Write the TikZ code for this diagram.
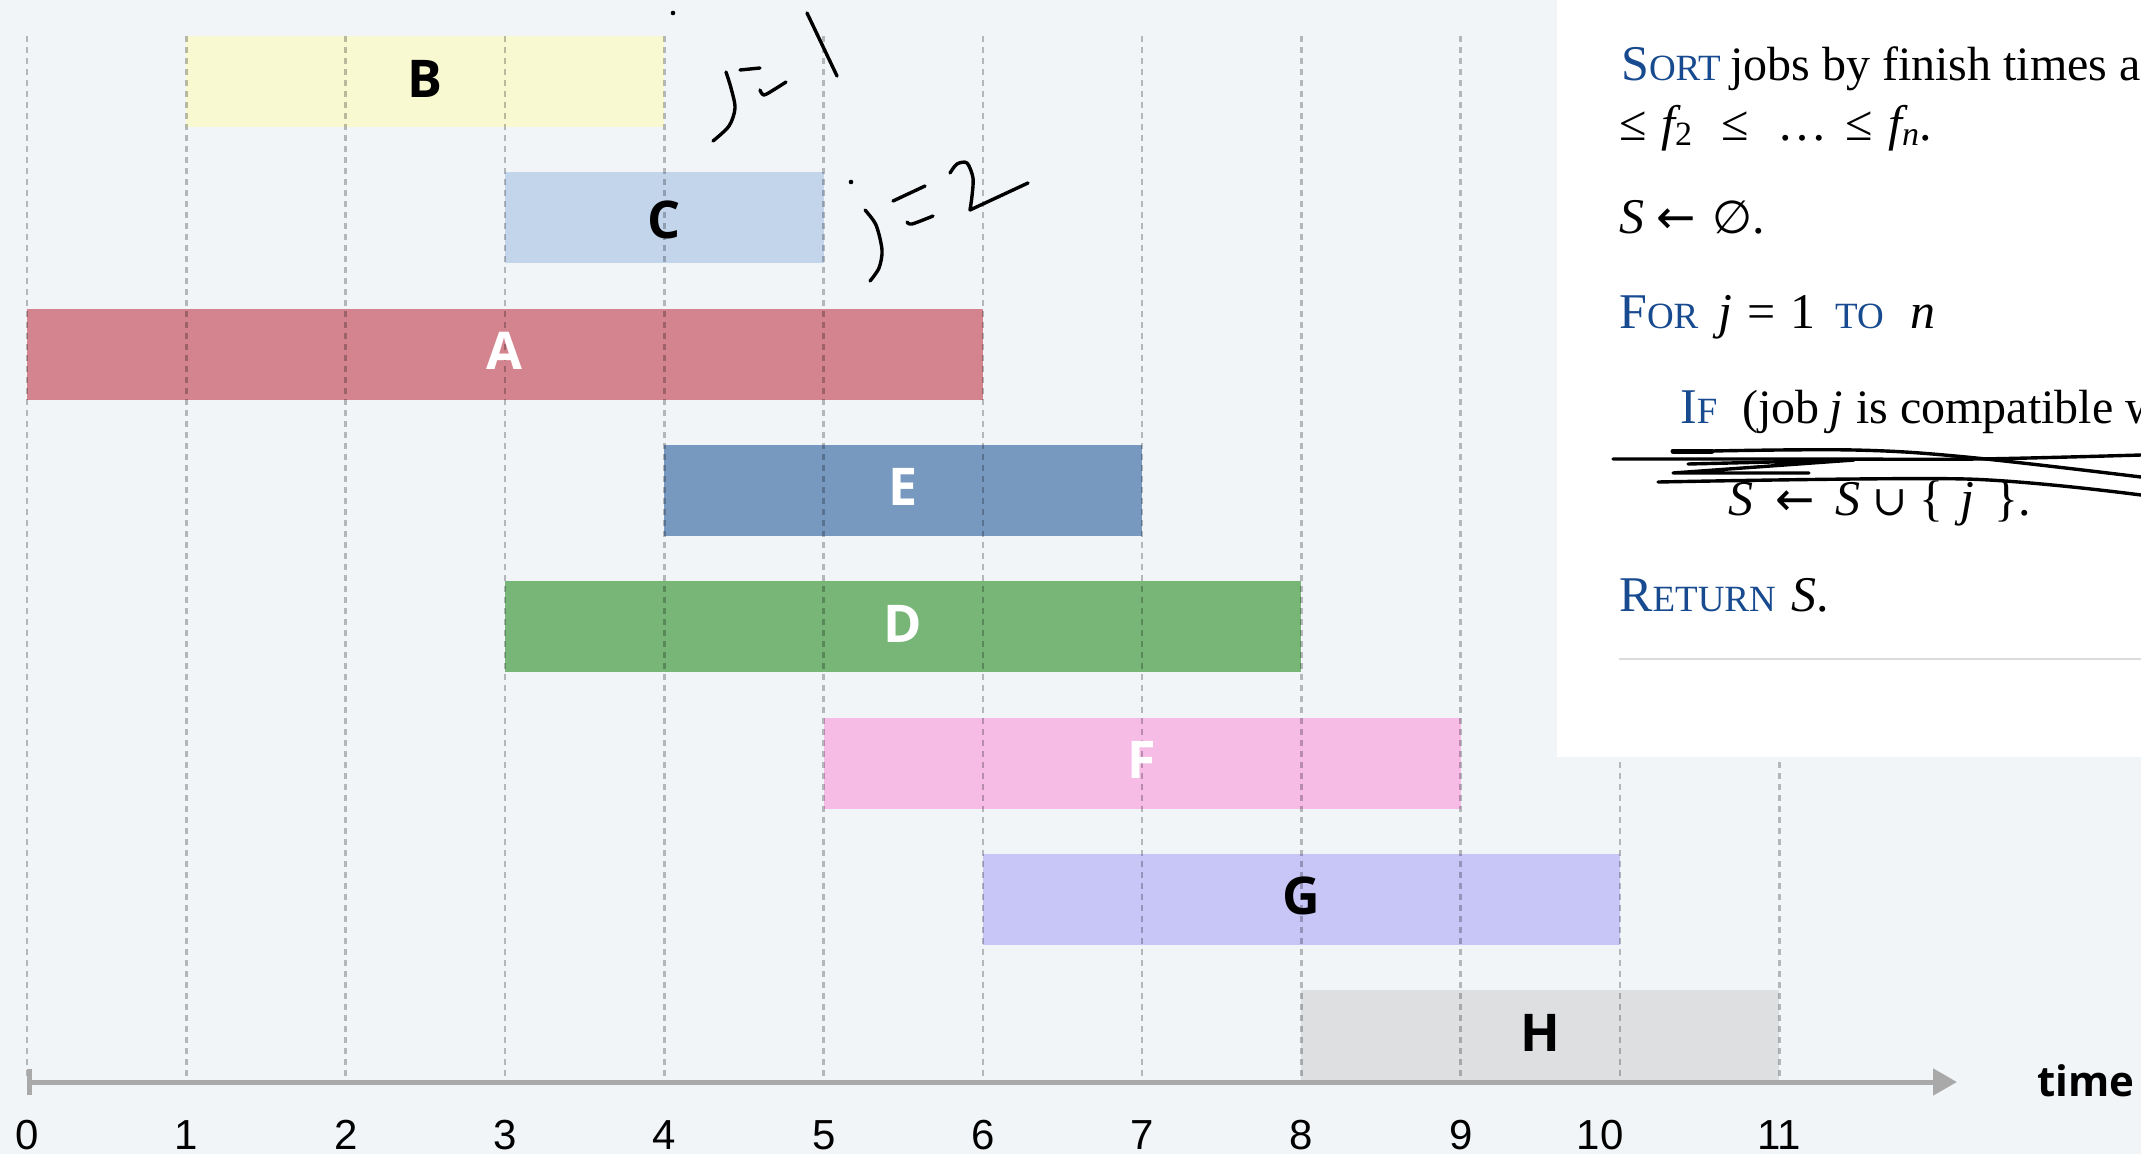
\documentclass[tikz,border=0pt]{standalone}
\usepackage{fontspec}
\setmainfont{Liberation Serif}
\newfontfamily\labelfont{Open Sans}
\newfontfamily\numfont{Liberation Sans}
\newfontfamily\symfont{DejaVu Serif}
\newfontfamily\symsans{DejaVu Sans}
\usetikzlibrary{arrows.meta}

\definecolor{bg}{HTML}{F1F5F8}
\definecolor{cB}{HTML}{F8F8D1}
\definecolor{cC}{HTML}{C2D5EB}
\definecolor{cA}{HTML}{D4848F}
\definecolor{cE}{HTML}{7799BF}
\definecolor{cD}{HTML}{78B678}
\definecolor{cF}{HTML}{F6BCE6}
\definecolor{cG}{HTML}{C8C5F7}
\definecolor{cH}{HTML}{DEDFE1}
\definecolor{kw}{RGB}{24,74,144}
\definecolor{axisgray}{HTML}{A9A9A9}

\newcommand{\bigtxt}{\fontsize{50}{60}\selectfont}
\newcommand{\runtxt}{\fontsize{48}{58}\selectfont}
\newcommand{\smallcap}{\fontsize{37}{44}\selectfont}
\newcommand{\subtxt}{\fontsize{34}{40}\selectfont}
\newcommand{\larrow}{{\symsans\fontsize{47}{50}\selectfont ←}}

\begin{document}
\begin{tikzpicture}[x=1pt,y=-1pt,
  bar/.style={inner sep=0pt,outer sep=0pt,minimum height=91pt,anchor=north west},
  barlabel/.style={inner sep=0pt,anchor=base,font=\labelfont\bfseries\fontsize{52}{60}\selectfont},
  gridline/.style={black,opacity=0.25,line width=2.6pt,dash pattern=on 6pt off 5pt},
  axisline/.style={axisgray,line width=5pt,{Bar[width=26pt,line width=5pt]}-{Triangle[length=24pt,width=26pt]}},
  num/.style={inner sep=0pt,anchor=base,font=\numfont\fontsize{42}{48}\selectfont},
  txt/.style={inner sep=0pt,anchor=base west,font=\bigtxt},
  ink/.style={black,line width=3.4pt,line cap=round,line join=round}]

\def\U{159.3}
\def\Xo{27}

% canvas
\useasboundingbox (0,0) rectangle (2141,1154);
\fill[bg] (0,0) rectangle (2141,1154);

% job intervals
\foreach \n/\s/\e/\r/\c in {B/1/4/0/cB, C/3/5/1/cC, A/0/6/2/cA, E/4/7/3/cE,
                            D/3/8/4/cD, F/5/9/5/cF, G/6/10/6/cG, H/8/11/7/cH}{
  \node[bar,fill=\c,minimum width={(\e-\s)*\U*1pt}] (\n) at ({\Xo+\s*\U},{36+136.3*\r}) {};
}

% time grid
\foreach \k in {0,...,11}{
  \draw[gridline] ({\Xo+\k*\U},36) -- ({\Xo+\k*\U},1080);
}

% job names
\foreach \n/\t/\d in {B/black/15.5, C/black/21, A/white/15.5, E/white/15.5,
                      D/white/15.5, F/white/15.5, G/black/15.5, H/black/15.5}{
  \node[barlabel,text=\t] (lab\n) at ([yshift=-\d pt]\n.center) {\n};
}

% pseudocode panel
\fill[white] (1557,0) rectangle (2141,757);
\draw[black!14,line width=2.5pt] (1619,659) -- (2141,659);

\begin{scope}
\clip (1557,0) rectangle (2141,757);
\node[txt,text=kw] (sortkw) at (1621,80) {S\smallcap ORT};
\node[txt,font=\runtxt] (sortrest) at (1730,80) {jobs by finish times a};

\node[txt] (le1) at (1619,140) {≤};
\node[txt] (f2) at (1661,140) {\itshape f\raisebox{-5pt}{\upshape\subtxt 2}};
\node[txt] (le2) at (1721,140) {≤};
\node[txt] (dots) at (1777,140) {…};
\node[txt] (le3) at (1845,140) {≤};
\node[txt] (fn) at (1888,140) {\itshape f\raisebox{-5pt}{\subtxt n}\upshape .};

\node[txt] (s0) at (1619,233) {\itshape S};
\node[txt] (ar0) at (1656,233) {\larrow};
\node[txt] (empty) at (1712,233) {{\symsans\fontsize{46}{50}\selectfont ∅}.};

\node[txt,text=kw] (forkw) at (1619,328) {F\smallcap OR};
\node[txt] (jvar) at (1718,328) {\itshape j};
\node[txt] (eq) at (1747,328) {=};
\node[txt] (one) at (1790,328) {1};
\node[txt,text=kw] (tokw) at (1835,328) {\smallcap TO};
\node[txt] (nvar) at (1910,328) {\itshape n};

\node[txt,text=kw] (ifkw) at (1680,423) {I\smallcap F};
\node[txt,font=\runtxt] (job) at (1742,423) {(job};
\node[txt,font=\runtxt] (jvar2) at (1829,423) {\itshape j};
\node[txt,font=\runtxt] (compat) at (1856,423) {is compatible w};

\node[txt] (s1) at (1728,515) {\itshape S};
\node[txt] (ar1) at (1775,515) {\larrow};
\node[txt] (s2) at (1835,515) {\itshape S};
\node[txt] (cup) at (1872,515) {{\symfont\fontsize{42}{50}\selectfont ∪}};
\node[txt] (lbr) at (1919,515) {\{};
\node[txt] (jvar3) at (1960,515) {\itshape j};
\node[txt] (rbr) at (1994,515) {\}.};

\node[txt,text=kw] (retkw) at (1619,611) {R\smallcap ETURN};
\node[txt] (sret) at (1791,611) {\itshape S\upshape .};

% strike-out scribble over the update line
\draw[ink] plot[smooth,tension=0.5] coordinates {(1613,459) (1800,459) (1977,459) (2141,455)};
\draw[ink,line width=5pt] (1673,451) -- (1712,451);
\draw[ink] plot[smooth,tension=0.6] coordinates {(1712,451) (1854,450) (1966,457) (2141,477)};
\draw[ink] (1688,464) -- (1854,460) -- (1673,473) -- (1809,473);
\draw[ink] plot[smooth,tension=0.5] coordinates {(1658,482) (1966,479) (2141,495)};
\end{scope}

% time axis
\coordinate (t0) at (\Xo,1082);
\coordinate (tend) at (1957,1082);
\draw[axisline] (t0) -- (tend);
\foreach \k/\xx in {0/27, 1/186, 2/346, 3/505, 4/664, 5/824, 6/983, 7/1142, 8/1301, 9/1461, 10/1600, 11/1779}{
  \node[num] (tick\k) at (\xx,1149) {\k};
}
\node[inner sep=0pt,anchor=base west,font=\labelfont\bfseries\fontsize{42}{48}\selectfont] (timelab) at (2037,1096) {time};

% handwritten j = 1
\fill (673,13) circle (2.3pt);
\draw[ink] plot[smooth] coordinates {(726,72) (731,88) (735,108) (729,126) (713,141)};
\draw[ink] (740,70) -- (760,68);
\draw[ink] plot[smooth] coordinates {(760,90) (764,95) (775,89) (786,82)};
\draw[ink] (807,13) -- (837,76);

% handwritten j = 2
\fill (851,182) circle (2.3pt);
\draw[ink] plot[smooth] coordinates {(865,210) (876,225) (882,250) (879,268) (870,281)};
\draw[ink] (893,201) -- (925,186);
\draw[ink] plot[smooth] coordinates {(907,222) (912,224) (933,216)};
\draw[ink] plot[smooth] coordinates {(950,173) (957,164) (967,163) (973,178) (972,196) (970,210)} -- (1028,183);

\end{tikzpicture}
\end{document}
